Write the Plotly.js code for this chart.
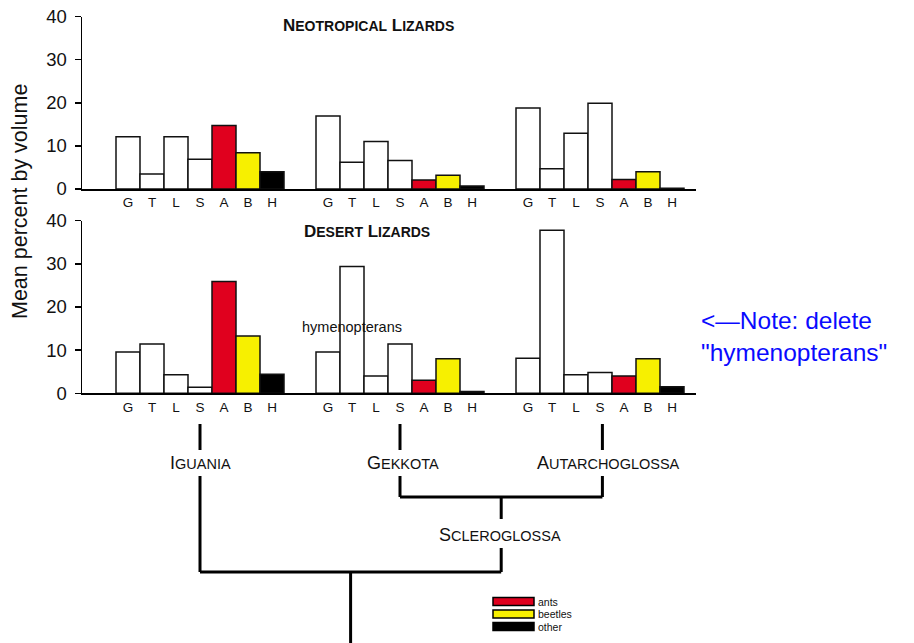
<!DOCTYPE html>
<html>
<head>
<meta charset="utf-8">
<script src="https://cdn.plot.ly/plotly-3.0.1.min.js"></script>
<style>html,body{margin:0;padding:0;background:#fff}#chart{width:914px;height:643px}</style>
</head>
<body>
<div id="chart"></div>
<script>
// ---- data ----
const cladeNames = ['Iguania', 'Gekkota', 'Autarchoglossa'];
const preyLabels = ['G', 'T', 'L', 'S', 'A', 'B', 'H'];
const preyColors = ['#ffffff', '#ffffff', '#ffffff', '#ffffff', '#e0001e', '#f7f000', '#000000'];
const legendNames = ['ants', 'beetles', 'other'];
const legendColors = ['#e0001e', '#f7f000', '#000000'];

const neoIguania        = [12.1, 3.5, 12.1, 6.9, 14.7, 8.4, 4.0];
const neoGekkota        = [16.9, 6.2, 11.0, 6.6, 2.1, 3.2, 0.7];
const neoAutarchoglossa = [18.8, 4.7, 12.9, 19.9, 2.2, 4.0, 0.2];

const desIguania        = [9.6, 11.4, 4.3, 1.4, 25.9, 13.3, 4.4];
const desGekkota        = [9.6, 29.4, 4.0, 11.4, 3.0, 8.0, 0.4];
const desAutarchoglossa = [8.1, 37.8, 4.3, 4.8, 4.0, 8.0, 1.5];

const yTicks = [0, 10, 20, 30, 40];

// ---- layout helpers ----
const W = 914, H = 643;
const PX = p => p / W;
const PY = p => 1 - p / H;
const GROUP_STEP = 25 / 3;          // bar units between group starts
const xs = g => preyLabels.map((_, i) => g * GROUP_STEP + i);
const groupCenter = g => g * GROUP_STEP + 3;

const FONT = 'Liberation Sans, Arial, Helvetica, sans-serif';

const panels = [
  {xa: 'x', ya: 'y', data: [neoIguania, neoGekkota, neoAutarchoglossa]},
  {xa: 'x2', ya: 'y2', data: [desIguania, desGekkota, desAutarchoglossa]}
];

const traces = [];
panels.forEach(p => {
  p.data.forEach((vals, g) => {
    traces.push({
      type: 'bar',
      x: xs(g),
      y: vals,
      xaxis: p.xa, yaxis: p.ya,
      width: 1,
      name: cladeNames[g],
      marker: {color: preyColors, line: {color: '#111', width: 1.5}},
      hoverinfo: 'x+y',
      showlegend: false
    });
  });
});

const allX = [0, 1, 2].flatMap(g => xs(g));
const allText = [0, 1, 2].flatMap(() => preyLabels);

const xRange = [(82 - 128) / 24, (696 - 128) / 24];

function xAxis(anchor) {
  return {
    domain: [PX(82), PX(696)], range: xRange, anchor: anchor,
    tickmode: 'array', tickvals: allX, ticktext: allText,
    ticks: '', ticklabelstandoff: 0,
    tickfont: {family: FONT, size: 13.5, color: '#111'},
    showline: true, linecolor: '#000', linewidth: 2,
    showgrid: false, zeroline: false, fixedrange: true
  };
}
function yAxis(anchor, top, zero) {
  return {
    domain: [PY(zero), PY(top)], range: [0, 40], anchor: anchor,
    tickmode: 'array', tickvals: yTicks,
    ticks: 'outside', ticklen: 6, tickwidth: 1.5, tickcolor: '#000',
    ticklabelstandoff: 4,
    tickfont: {family: FONT, size: 18.5, color: '#111'},
    showline: true, linecolor: '#000', linewidth: 1.5,
    showgrid: false, zeroline: false, fixedrange: true
  };
}

function smallCaps(big, rest, fb, fs) {
  return big + '<span style="font-size:' + fs + 'px">' + rest + '</span>';
}

const annotations = [
  {text: 'Mean percent by volume', xref: 'paper', yref: 'paper', x: PX(20), y: PY(202),
   textangle: -90, showarrow: false, xanchor: 'center', yanchor: 'middle',
   font: {family: FONT, size: 21.5, color: '#111'}},
  {text: '<b>' + smallCaps('N', 'EOTROPICAL', 17, 14) + ' ' + smallCaps('L', 'IZARDS', 17, 14) + '</b>',
   xref: 'paper', yref: 'paper', x: PX(368), y: PY(26), showarrow: false,
   xanchor: 'center', yanchor: 'middle', font: {family: FONT, size: 17, color: '#111'}},
  {text: '<b>' + smallCaps('D', 'ESERT', 17, 14) + ' ' + smallCaps('L', 'IZARDS', 17, 14) + '</b>',
   xref: 'paper', yref: 'paper', x: PX(367), y: PY(231), showarrow: false,
   xanchor: 'center', yanchor: 'middle', font: {family: FONT, size: 17, color: '#111'}},
  {text: 'hymenopterans', xref: 'paper', yref: 'paper', x: PX(352), y: PY(327), showarrow: false,
   xanchor: 'center', yanchor: 'middle', font: {family: FONT, size: 14.5, color: '#111'}},
  {text: '&lt;\u2014Note: delete<br>"hymenopterans"', xref: 'paper', yref: 'paper',
   x: PX(699), y: PY(336), showarrow: false, xanchor: 'left', yanchor: 'middle', align: 'left',
   font: {family: FONT, size: 24.5, color: '#0a0aff'}},
  // clade labels
  {text: smallCaps('I', 'GUANIA', 18, 14.5), xref: 'x2', yref: 'paper', x: groupCenter(0), y: PY(463),
   showarrow: false, xanchor: 'center', yanchor: 'middle', font: {family: FONT, size: 18, color: '#111'}},
  {text: smallCaps('G', 'EKKOTA', 18, 14.5), xref: 'x2', yref: 'paper', x: groupCenter(1) + 0.12, y: PY(463),
   showarrow: false, xanchor: 'center', yanchor: 'middle', font: {family: FONT, size: 18, color: '#111'}},
  {text: smallCaps('A', 'UTARCHOGLOSSA', 18, 14.5), xref: 'x2', yref: 'paper', x: groupCenter(2) + 0.35, y: PY(463),
   showarrow: false, xanchor: 'center', yanchor: 'middle', font: {family: FONT, size: 18, color: '#111'}},
  {text: smallCaps('S', 'CLEROGLOSSA', 18, 14.5), xref: 'x2', yref: 'paper',
   x: (groupCenter(1) + groupCenter(2)) / 2, y: PY(535),
   showarrow: false, xanchor: 'center', yanchor: 'middle', font: {family: FONT, size: 18, color: '#111'}}
];

// legend (swatches + labels)
const legendY = [601.5, 614, 626.5];
legendNames.forEach((n, i) => {
  annotations.push({text: n, xref: 'paper', yref: 'paper', x: PX(537), y: PY(legendY[i]),
    showarrow: false, xanchor: 'left', yanchor: 'middle', borderpad: 0,
    font: {family: FONT, size: 10.5, color: '#111'}});
});

const shapes = [];
legendColors.forEach((c, i) => {
  shapes.push({type: 'rect', xref: 'paper', yref: 'paper',
    x0: PX(493), x1: PX(534), y0: PY(legendY[i] + 4), y1: PY(legendY[i] - 4),
    fillcolor: c, line: {color: '#000', width: 1.5}});
});

// phylogeny
const L = {color: '#000', width: 3};
const vline = (x, y0, y1) => shapes.push({type: 'line', xref: 'x2', yref: 'paper', x0: x, x1: x, y0: PY(y0), y1: PY(y1), line: L});
const hline = (xa, xb, y) => shapes.push({type: 'line', xref: 'x2', yref: 'paper', x0: xa, x1: xb, y0: PY(y), y1: PY(y), line: L});
const cI = groupCenter(0), cG = groupCenter(1), cA = groupCenter(2) + 0.1;
const cS = (cG + cA) / 2, cR = (cI + cS) / 2;
[cI, cG, cA].forEach(c => vline(c, 424, 450));
vline(cI, 476, 572);
vline(cG, 476, 497);
vline(cA, 476, 497);
hline(cG, cA, 497);
vline(cS, 497, 519);
vline(cS, 548, 572);
hline(cI, cS, 572);
vline(cR, 572, 645);

const layout = {
  width: W, height: H,
  margin: {l: 0, r: 0, t: 0, b: 0},
  paper_bgcolor: '#fff', plot_bgcolor: 'rgba(0,0,0,0)',
  showlegend: false, bargap: 0,
  font: {family: FONT, color: '#111'},
  xaxis: xAxis('y'),
  yaxis: yAxis('x', 16.5, 189),
  xaxis2: xAxis('y2'),
  yaxis2: yAxis('x2', 220.7, 393.3),
  annotations: annotations,
  shapes: shapes
};

Plotly.newPlot('chart', traces, layout, {displayModeBar: false, staticPlot: true});
</script>
</body>
</html>
